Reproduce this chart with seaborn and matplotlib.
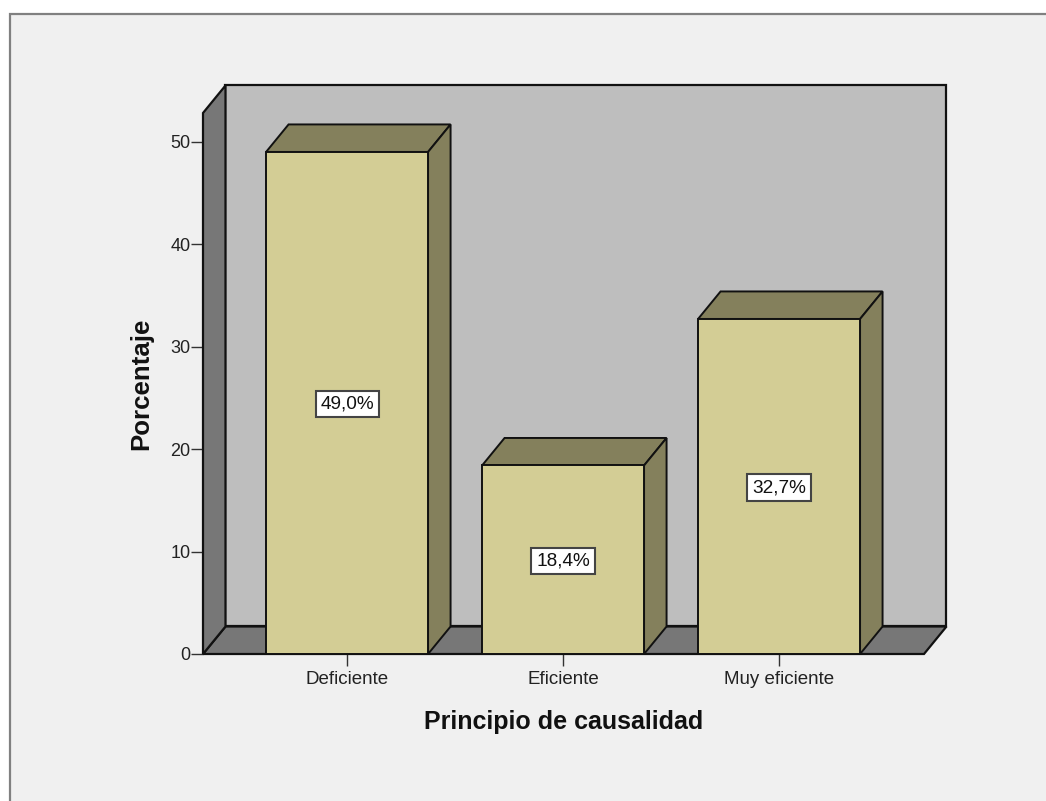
import matplotlib
matplotlib.use("Agg")
import matplotlib.pyplot as plt
from matplotlib.patches import Polygon, Rectangle
import seaborn as sns

categories = ["Deficiente", "Eficiente", "Muy eficiente"]
percentages = [49.0, 18.4, 32.7]
value_labels = ["49,0%", "18,4%", "32,7%"]
y_ticks = [0, 10, 20, 30, 40, 50]

WIDTH, HEIGHT = 1046, 801
BG = "#f0f0f0"
WALL = "#bebebe"
FLOOR = "#777777"
BAR_FRONT = "#d3cd95"
BAR_SHADE = "#84805c"
INK = "#111111"
TEXT = "#222222"

sns.set_style("white")
plt.rcParams["font.family"] = ["Liberation Sans", "DejaVu Sans"]

fig = plt.figure(figsize=(WIDTH / 100, HEIGHT / 100), dpi=100, facecolor="white")

# Panel background with its grey border on the top and left edges
fig.add_artist(Rectangle((10 / WIDTH, -0.02), 1.05, 1.02 - 14 / HEIGHT,
                         transform=fig.transFigure, facecolor=BG,
                         edgecolor="#808080", linewidth=1.6, zorder=-1))

left, right, bottom, top = 203, 924, 654, 113
ax = fig.add_axes([left / WIDTH, 1 - bottom / HEIGHT,
                   (right - left) / WIDTH, (bottom - top) / HEIGHT])
ax.patch.set_alpha(0)

bar_width = 0.75
sns.barplot(x=categories, y=percentages, color=BAR_FRONT, saturation=1,
            width=bar_width, edgecolor=INK, linewidth=1.4, zorder=4, ax=ax)

xmin, xmax = -0.667, 2.671
ymin, ymax = 0, 52.8
ax.set_xlim(xmin, xmax)
ax.set_ylim(ymin, ymax)

# Oblique depth of the fake 3D box, in data units
dx = 22.5 / 216
dy = 27.5 / 10.245


def face(points, color, z, lw=1.6):
    ax.add_patch(Polygon(points, closed=True, facecolor=color, edgecolor=INK,
                         linewidth=lw, joinstyle="miter", clip_on=False, zorder=z))


face([(xmin + dx, ymin + dy), (xmax + dx, ymin + dy),
      (xmax + dx, ymax + dy), (xmin + dx, ymax + dy)], WALL, 1)
face([(xmin, ymin), (xmax, ymin), (xmax + dx, ymin + dy), (xmin + dx, ymin + dy)], FLOOR, 2)
face([(xmin, ymin), (xmin + dx, ymin + dy), (xmin + dx, ymax + dy), (xmin, ymax)], FLOOR, 2)

for i, (value, label) in enumerate(zip(percentages, value_labels)):
    x0, x1 = i - bar_width / 2, i + bar_width / 2
    face([(x0, value), (x1, value), (x1 + dx, value + dy), (x0 + dx, value + dy)],
         BAR_SHADE, 3, lw=1.4)
    face([(x1, 0), (x1 + dx, dy), (x1 + dx, value + dy), (x1, value)],
         BAR_SHADE, 3, lw=1.4)
    ax.annotate(label, (i, value / 2), xytext=(0, -0.8), textcoords="offset points",
                ha="center", va="center", fontsize=13.7, color=INK, zorder=6,
                bbox=dict(boxstyle="square,pad=0.25", facecolor="white",
                          edgecolor="#444444", linewidth=1.5))

sns.despine(ax=ax, left=True, bottom=True, top=True, right=True)
ax.set_yticks(y_ticks)
ax.tick_params(axis="y", length=9, width=1.0, color="#333333",
               labelsize=13, labelcolor=TEXT, left=True, pad=0)
ax.tick_params(axis="x", length=8.5, width=1.0, color="#333333",
               labelsize=13.5, labelcolor=TEXT, bottom=True, pad=3.5)
ax.set_xlabel("Principio de causalidad", fontsize=18, fontweight="bold",
              color=INK, labelpad=16)
ax.set_ylabel("Porcentaje", fontsize=18.6, fontweight="bold", color=INK, labelpad=12)

fig.savefig("out.png", dpi=100, facecolor="white")
